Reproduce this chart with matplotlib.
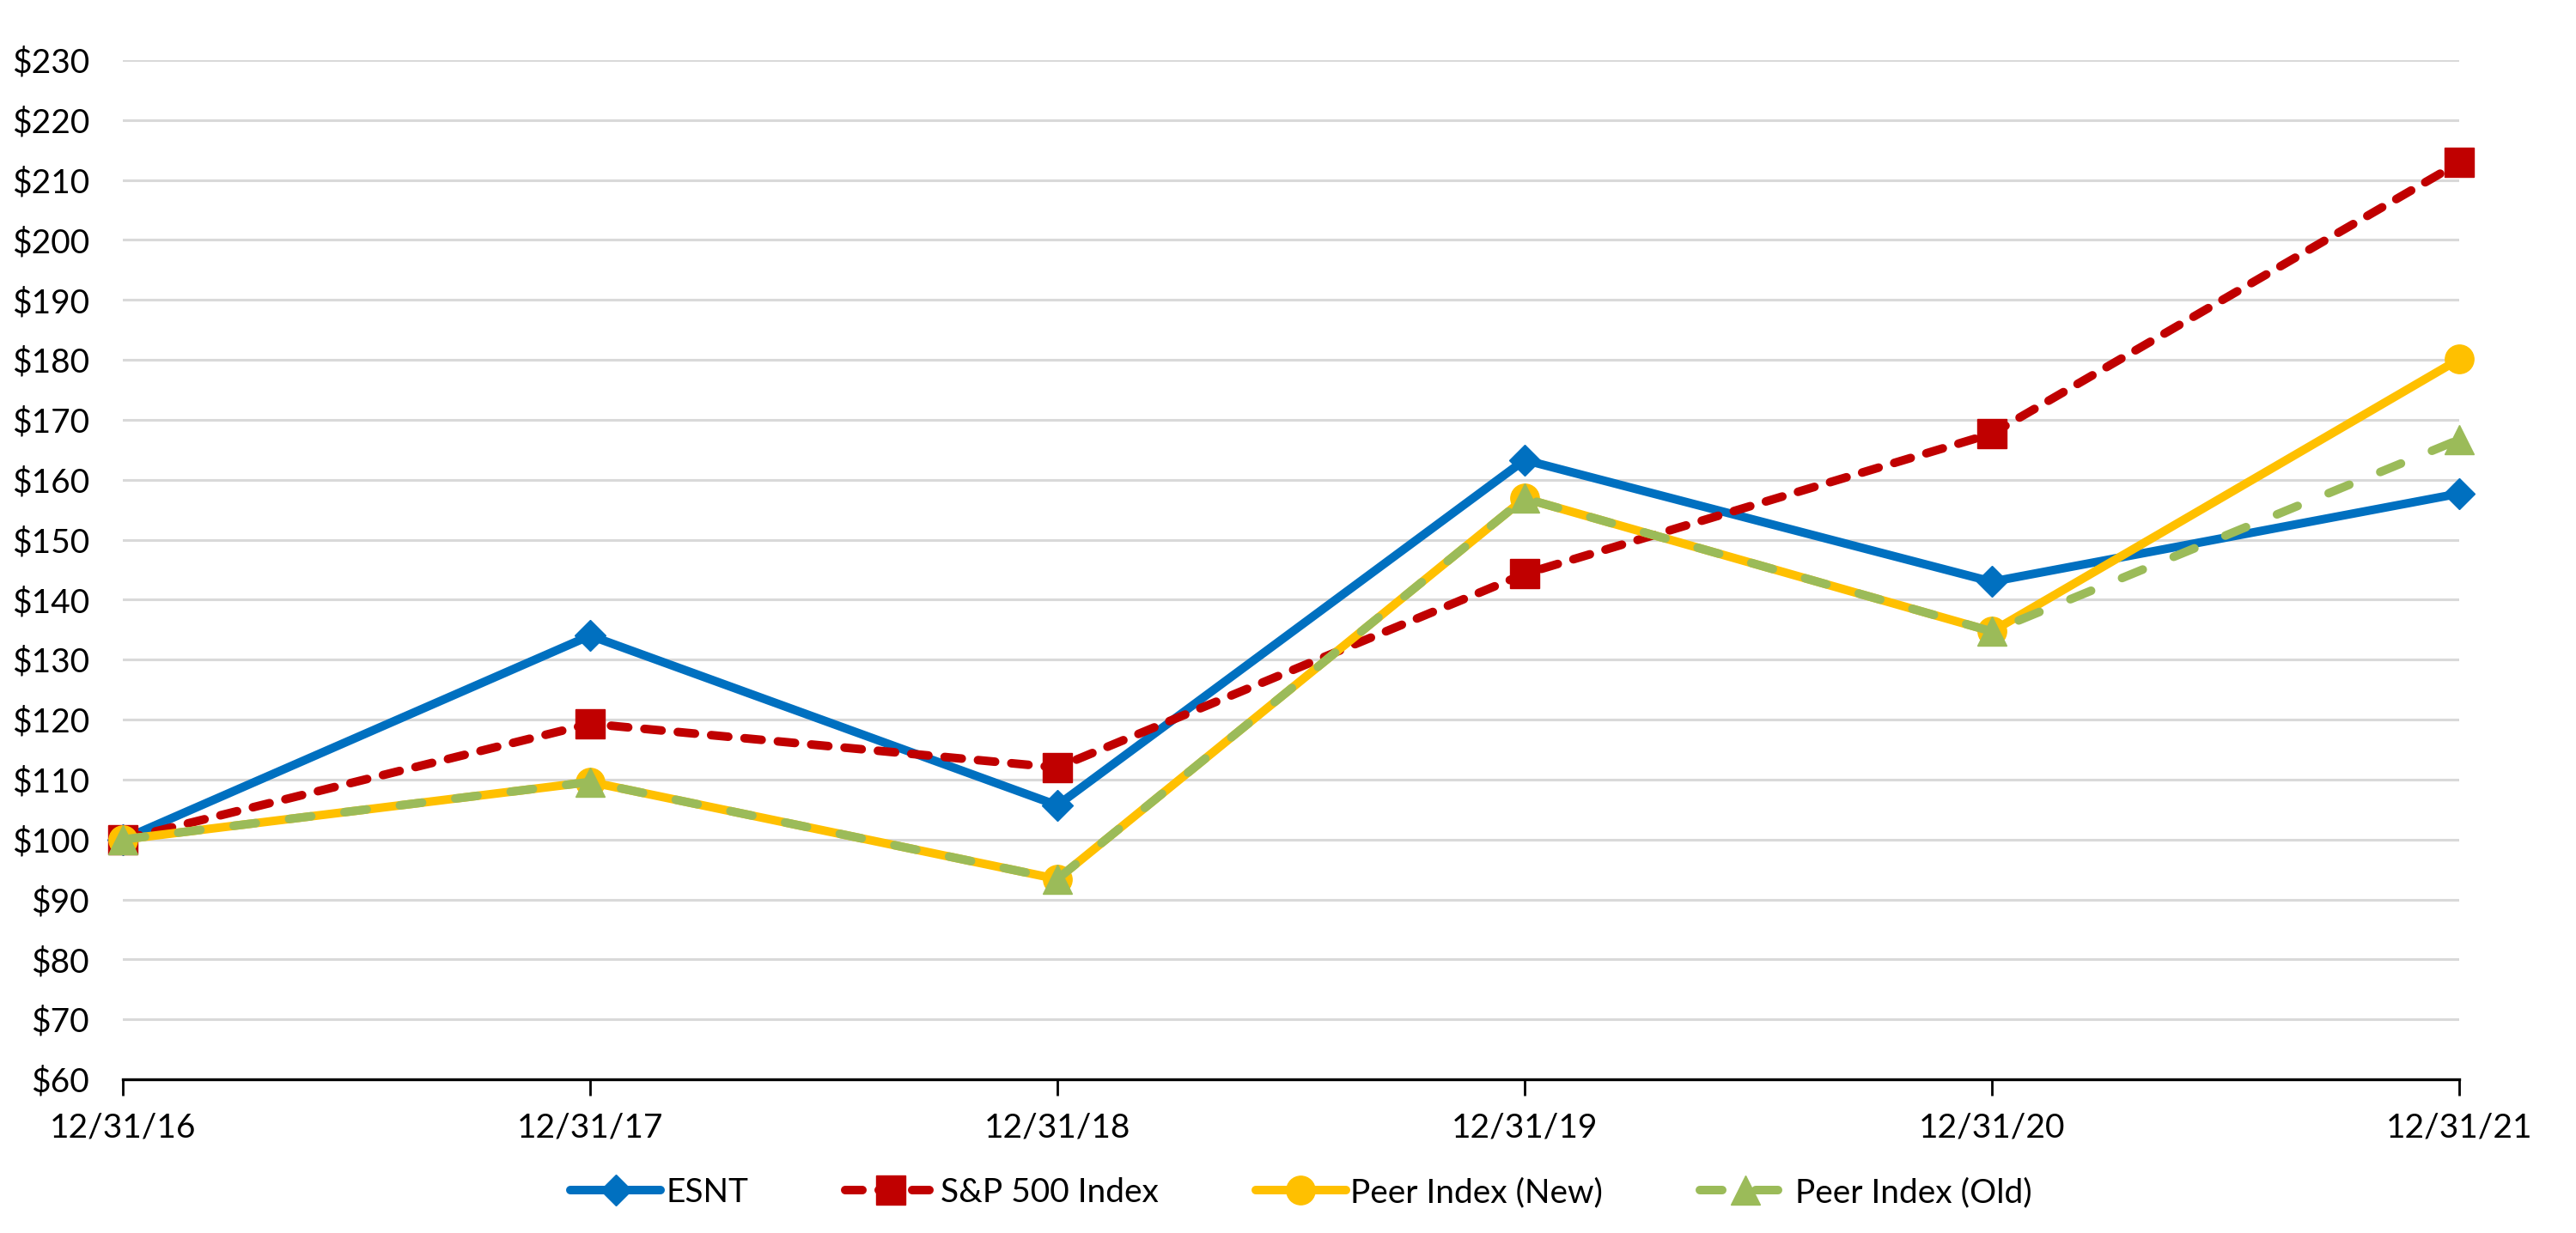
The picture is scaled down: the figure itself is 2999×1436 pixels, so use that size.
import matplotlib
matplotlib.use("Agg")
import matplotlib.pyplot as plt
from matplotlib.ticker import FuncFormatter, MultipleLocator

dates = ["12/31/16", "12/31/17", "12/31/18", "12/31/19", "12/31/20", "12/31/21"]
esnt = [100, 134, 105.7, 163.3, 143, 157.7]
sp500 = [100, 119.3, 112, 144.3, 167.7, 212.9]
peer_new = [100, 109.6, 93.4, 156.9, 134.7, 180.1]
peer_old = [100, 109.6, 93.4, 156.9, 134.7, 166.7]

plt.rcParams['font.family'] = ['Lato', 'DejaVu Sans']
FS = 28

fig = plt.figure(figsize=(29.99, 14.36), dpi=100)
ax = fig.add_axes([143/2999, 1 - 1257/1436, (2863-143)/2999, (1257-70)/1436])

x = list(range(len(dates)))
lw = 7.2
ax.plot(x, esnt, color='#0070C0', lw=lw, marker='D', ms=18, label='ESNT',
        solid_joinstyle='round', solid_capstyle='round', zorder=3, clip_on=False)
ax.plot(x, sp500, color='#C00000', lw=lw, marker='s', ms=25, label='S&P 500 Index',
        dashes=(2.0, 1.9), dash_capstyle='round', zorder=4, clip_on=False)
ax.plot(x, peer_new, color='#FFC000', lw=lw, marker='o', ms=24, label='Peer Index (New)',
        solid_joinstyle='round', solid_capstyle='round', zorder=5, clip_on=False)
ax.plot(x, peer_old, color='#9BBB59', lw=lw, marker='^', ms=25, label='Peer Index (Old)',
        dashes=(2.6, 3.9), dash_capstyle='round', zorder=6, clip_on=False)

ax.set_xlim(0, len(dates) - 1)
ax.set_ylim(60, 230)
ax.yaxis.set_major_locator(MultipleLocator(10))
ax.yaxis.set_major_formatter(FuncFormatter(lambda v, p: f"${v:.0f}"))
ax.set_xticks(x)
ax.set_xticklabels(dates)

ax.grid(axis='y', color='#D9D9D9', lw=2.2, zorder=0)
ax.set_axisbelow(True)
for s in ['top', 'right', 'left']:
    ax.spines[s].set_visible(False)
ax.spines['bottom'].set_color('black')
ax.spines['bottom'].set_linewidth(2.4)
ax.spines['bottom'].set_zorder(2)

ax.tick_params(axis='y', length=0, pad=28, labelsize=FS, colors='black')
ax.tick_params(axis='x', length=14, width=2.0, direction='out', pad=14, labelsize=FS, colors='black')

leg = fig.legend(loc='center', bbox_to_anchor=(1515/2999, 1 - 1389/1436), ncol=4,
                 frameon=False, fontsize=FS, handlelength=2.7, handletextpad=0.15,
                 columnspacing=2.9, numpoints=1)

fig.savefig('out.png', dpi=100)
